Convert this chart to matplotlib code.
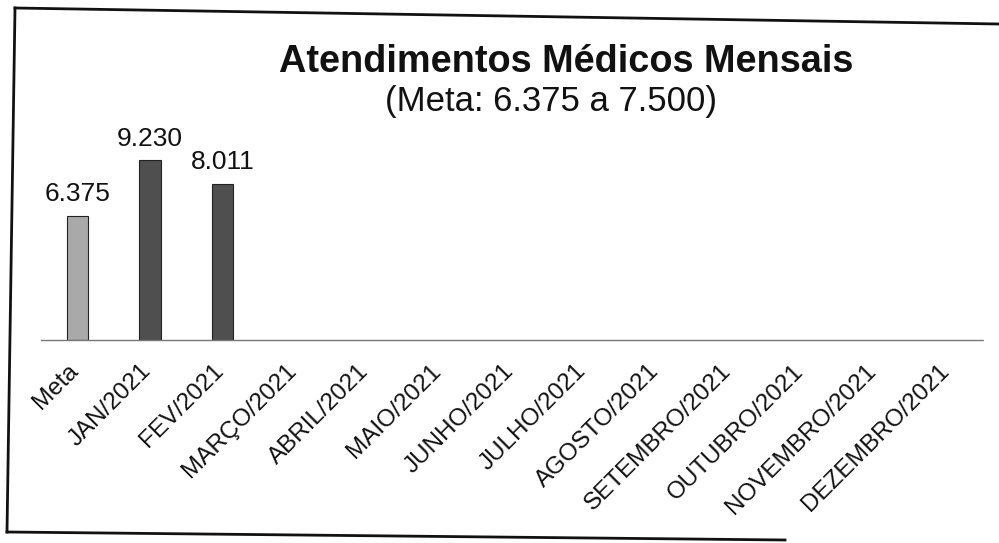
import matplotlib
matplotlib.use("Agg")
import matplotlib.pyplot as plt
from matplotlib.lines import Line2D
from matplotlib.transforms import ScaledTranslation

categories = ["Meta", "JAN/2021", "FEV/2021", "MARÇO/2021", "ABRIL/2021", "MAIO/2021",
              "JUNHO/2021", "JULHO/2021", "AGOSTO/2021", "SETEMBRO/2021", "OUTUBRO/2021",
              "NOVEMBRO/2021", "DEZEMBRO/2021"]
values = [6375, 9230, 8011]
value_labels = ["6.375", "9.230", "8.011"]
bar_colors = ["#a9a9a9", "#4f4f4f", "#4f4f4f"]

title = "Atendimentos Médicos Mensais"
subtitle = "(Meta: 6.375 a 7.500)"

plt.rcParams['font.family'] = ['Liberation Sans', 'DejaVu Sans']

W, H = 999, 543
fig = plt.figure(figsize=(W / 100, H / 100), dpi=100)

# axes placement (pixels)
ax_left, ax_right = 41.25, 983.75
base_y = 340
top_y = 145.4
ax = fig.add_axes([ax_left / W, (H - base_y) / H, (ax_right - ax_left) / W, (base_y - top_y) / H])

x = list(range(len(values)))
bars = ax.bar(x, values, width=0.3, color=bar_colors, edgecolor="#222222", linewidth=0.8)
for b, lab in zip(bars, value_labels):
    ax.annotate(lab, (b.get_x() + b.get_width() / 2, b.get_height()),
                xytext=(0, 7), textcoords="offset points",
                ha="center", va="bottom", fontsize=19, color="#111111")

ax.set_xlim(-0.5, len(categories) - 0.5)
ax.set_ylim(0, 10000)
ax.set_xticks(range(len(categories)))
ax.set_xticklabels(categories, rotation=45, ha="right", rotation_mode="anchor",
                   fontsize=17.5, color="#111111")
ax.tick_params(axis="x", length=0, pad=8)
shift = ScaledTranslation(-10 / 100, -9 / 100, fig.dpi_scale_trans)
for t in ax.get_xticklabels():
    t.set_transform(t.get_transform() + shift)
ax.set_yticks([])
for s in ["left", "right", "top"]:
    ax.spines[s].set_visible(False)
ax.spines["bottom"].set_color("#777777")
ax.spines["bottom"].set_linewidth(1.0)
ax.spines["bottom"].set_linestyle((0, (6, 1)))

fig.text(566 / W, 1 - 62 / H, title, ha="center", va="center",
         fontsize=27.3, fontweight="bold", color="#111111")
fig.text(551 / W, 1 - 101 / H, subtitle, ha="center", va="center",
         fontsize=25, color="#111111")

# outer border (scanned frame, slightly tilted)
lw = 2.0
fig.add_artist(Line2D([15 / W, 7 / W], [1 - 8 / H, 1 - 532 / H], color="#111111", lw=lw))
fig.add_artist(Line2D([15 / W, 1.0], [1 - 8 / H, 1 - 24 / H], color="#111111", lw=lw))
fig.add_artist(Line2D([7 / W, 785 / W], [1 - 532 / H, 1 - 540 / H], color="#111111", lw=lw))

fig.savefig("out.png", dpi=100)
